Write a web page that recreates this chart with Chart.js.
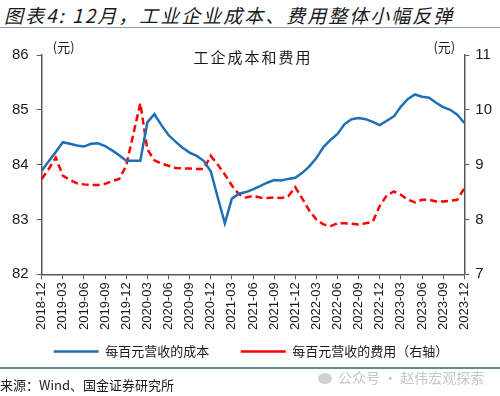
<!DOCTYPE html>
<html>
<head>
<meta charset="utf-8">
<script src="https://cdn.jsdelivr.net/npm/chart.js@4.4.0/dist/chart.umd.min.js"></script>
<style>
  body { margin: 0; width: 500px; height: 396px; background: #fff; position: relative; overflow: hidden; font-family: "Noto Sans CJK SC", sans-serif; }
  #title { position: absolute; left: 4px; top: 1px; font-size: 19px; font-style: italic; color: #1a1a1a; white-space: nowrap; letter-spacing: 2px; }
  #topline { position: absolute; left: 0; top: 27px; width: 500px; border-top: 1.5px solid #8ea2ae; }
  #box { position: absolute; left: 0; top: 30px; width: 500px; height: 338px; }
  #botline { position: absolute; left: 0; top: 367px; width: 500px; border-top: 2px solid #5f8b9b; }
  #src { position: absolute; left: 0; top: 375px; font-size: 13px; color: #1a1a1a; white-space: nowrap; }
  #wm { position: absolute; left: 318px; top: 367px; font-size: 14px; color: #c6c6c6; white-space: nowrap; }
  #wm i { display: inline-block; width: 14px; height: 11px; border-radius: 50%; background: #d2d2d2; margin-right: 6px; vertical-align: -1px; }
</style>
</head>
<body>
<div id="title">图表4: 12月，工业企业成本、费用整体小幅反弹</div>
<div id="topline"></div>
<div id="box"><canvas id="c"></canvas></div>
<div id="botline"></div>
<div id="src">来源：Wind、国金证券研究所</div>
<div id="wm"><i></i>公众号 · 赵伟宏观探索</div>
<script>
// months 2018-12 .. 2023-12
const months = ['2018-12'];
for (let y = 2019; y <= 2023; y++) {
  for (let m = 1; m <= 12; m++) months.push(y + '-' + String(m).padStart(2, '0'));
}

// 每百元营收的成本 (左轴, 元)
const costPer100 = [
  83.89, 84.06, 84.23, 84.41, 84.38, 84.35, 84.33, 84.38, 84.39, 84.34, 84.26, 84.17,
  84.07, 84.07, 84.07, 84.77, 84.92, 84.72, 84.54, 84.42, 84.31, 84.22, 84.16, 84.07,
  83.88, 83.40, 82.93, 83.38, 83.47, 83.50, 83.55, 83.61, 83.67, 83.72, 83.71, 83.74,
  83.76, 83.85, 83.97, 84.12, 84.32, 84.45, 84.56, 84.74, 84.83, 84.85, 84.83, 84.78,
  84.72, 84.80, 84.88, 85.06, 85.20, 85.28, 85.24, 85.22, 85.13, 85.05, 85.00, 84.91,
  84.76
];

// 每百元营收的费用 (右轴, 元)
const expensePer100 = [
  8.74, 8.92, 9.13, 8.80, 8.72, 8.66, 8.64, 8.63, 8.63, 8.65, 8.70, 8.74,
  8.98, 9.55, 10.12, 9.28, 9.08, 9.02, 8.98, 8.94, 8.93, 8.93, 8.92, 8.92,
  9.16, 9.00, 8.82, 8.62, 8.46, 8.40, 8.43, 8.40, 8.39, 8.40, 8.39, 8.42,
  8.59, 8.38, 8.16, 8.00, 7.91, 7.88, 7.93, 7.93, 7.92, 7.91, 7.93, 7.96,
  8.25, 8.44, 8.51, 8.45, 8.36, 8.31, 8.36, 8.36, 8.33, 8.33, 8.34, 8.36,
  8.57
];

const axisColor = '#595959';
const numFont = { family: '"Liberation Sans", Arial, sans-serif', size: 15 };

const notes = {
  id: 'notes',
  afterDraw(chart) {
    const { ctx, chartArea } = chart;
    ctx.save();
    ctx.fillStyle = '#1a1a1a';
    ctx.textAlign = 'center';
    ctx.textBaseline = 'middle';
    ctx.font = '15px "Noto Sans CJK SC"';
    ctx.letterSpacing = '2px';
    ctx.fillText('工企成本和费用', (chartArea.left + chartArea.right) / 2, chartArea.top + 2);
    ctx.letterSpacing = '0px';
    ctx.font = '13px "Noto Sans CJK SC"';
    ctx.fillText('(元)', chartArea.left + 22, chartArea.top - 8);
    ctx.fillText('(元)', chartArea.right - 20, chartArea.top - 8);
    ctx.restore();
  }
};

new Chart(document.getElementById('c'), {
  type: 'line',
  data: {
    labels: months,
    datasets: [{
      label: '每百元营收的成本',
      data: costPer100,
      yAxisID: 'y',
      borderColor: '#1f6fb5',
      backgroundColor: '#1f6fb5',
      borderWidth: 2.5,
      pointRadius: 0,
      tension: 0
    }, {
      label: '每百元营收的费用（右轴）',
      data: expensePer100,
      yAxisID: 'y1',
      borderColor: '#ff0000',
      backgroundColor: '#ff0000',
      borderWidth: 2.5,
      borderDash: [7, 4],
      pointRadius: 0,
      tension: 0
    }]
  },
  options: {
    responsive: true,
    maintainAspectRatio: false,
    animation: false,
    layout: { padding: { top: 25, left: 4, right: 2, bottom: 0 } },
    plugins: {
      tooltip: { enabled: false },
      legend: {
        position: 'bottom',
        labels: {
          usePointStyle: true,
          pointStyle: 'line',
          pointStyleWidth: 45,
          boxHeight: 13,
          padding: 12,
          color: '#1a1a1a',
          font: { family: '"Noto Sans CJK SC"', size: 13 },
          generateLabels: chart => {
            const items = Chart.defaults.plugins.legend.labels.generateLabels(chart);
            items[0].text += '\u3000\u2002';
            return items;
          }
        }
      }
    },
    scales: {
      x: {
        ticks: {
          autoSkip: false,
          maxRotation: 90,
          minRotation: 90,
          padding: 3,
          color: '#1a1a1a',
          font: { family: '"Liberation Sans", Arial, sans-serif', size: 13 },
          callback: function (v, i) { return i % 3 === 0 ? this.getLabelForValue(v) : ''; }
        },
        grid: {
          drawOnChartArea: false,
          tickLength: 5,
          color: ctx => (ctx.index % 3 === 0 ? axisColor : 'rgba(0,0,0,0)')
        },
        border: { color: axisColor, width: 1.5 }
      },
      y: {
        position: 'left',
        min: 82,
        max: 86,
        ticks: { stepSize: 1, padding: 8, color: '#1a1a1a', font: numFont },
        grid: { drawOnChartArea: false, tickLength: 5, color: axisColor },
        border: { color: axisColor, width: 1.5 }
      },
      y1: {
        position: 'right',
        min: 7,
        max: 11,
        ticks: { stepSize: 1, padding: 6, color: '#1a1a1a', font: numFont },
        grid: { drawOnChartArea: false, tickLength: 5, color: axisColor },
        border: { color: axisColor, width: 1.5 }
      }
    }
  },
  plugins: [notes]
});
</script>
</body>
</html>
